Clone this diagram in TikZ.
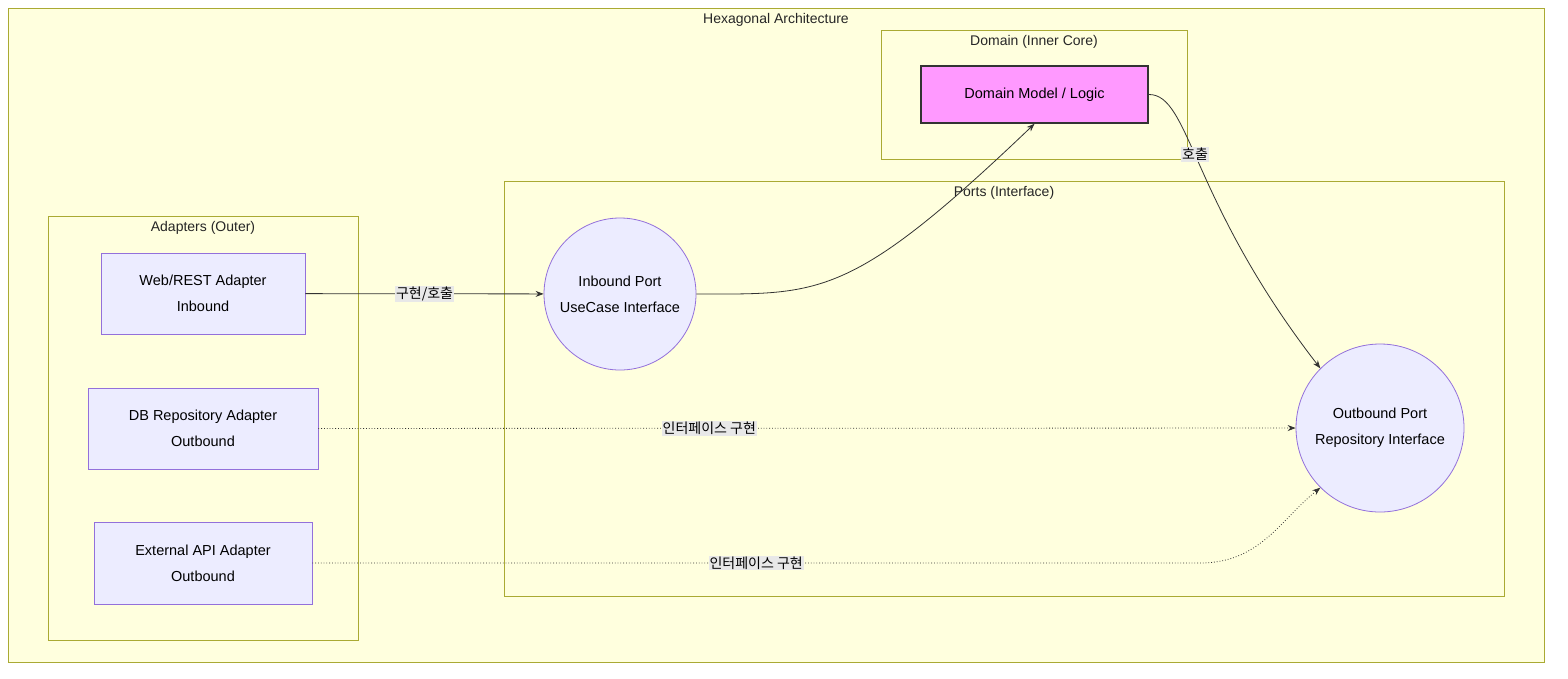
\documentclass[tikz,border=0pt]{standalone}
\usepackage{fontspec}
\setmainfont{Liberation Sans}
\newfontfamily\kr{Noto Sans CJK KR}
\usetikzlibrary{arrows.meta}
\definecolor{grpfill}{HTML}{FFFFDE}
\definecolor{grpline}{HTML}{AAAA33}
\definecolor{nfill}{HTML}{ECECFF}
\definecolor{nline}{HTML}{9370DB}
\definecolor{dfill}{HTML}{FF99FF}
\definecolor{lbl}{HTML}{E8E8E8}
\begin{document}
\begin{tikzpicture}[x=1pt,y=-1pt,
  grp/.style={draw=grpline,fill=grpfill,line width=0.8pt},
  gt/.style={font=\fontsize{14}{16}\selectfont,text=black!85},
  box/.style={draw=nline,fill=nfill,line width=0.8pt,align=center,font=\fontsize{14.5}{26}\selectfont},
  circ/.style={circle,draw=nline,fill=nfill,line width=0.8pt,align=center,font=\fontsize{14.5}{26}\selectfont,inner sep=0pt},
  e/.style={draw=black!80,line width=0.8pt,-{Stealth[length=8pt,width=6pt]}},
  dot/.style={e,dotted},
  el/.style={fill=lbl,inner sep=1pt,font=\kr\fontsize{14}{16}\selectfont}]
\path[use as bounding box] (0,0) rectangle (1568,678);
\fill[white] (0,0) rectangle (1568,678);
\draw[grp] (8,8) rectangle (1544,662);
\node[gt] (t0) at (776,20) {Hexagonal Architecture};
\draw[grp] (881,30) rectangle (1187,159);
\node[gt] (t1) at (1034,42) {Domain (Inner Core)};
\draw[grp] (504,181) rectangle (1504,596);
\node[gt] (t2) at (1004,193) {Ports (Interface)};
\draw[grp] (48,216) rectangle (358,640);
\node[gt] (t3) at (203,228) {Adapters (Outer)};
\node[box,minimum width=204pt,minimum height=81pt] (web) at (203,293.5) {Web/REST Adapter\\Inbound};
\node[box,minimum width=230pt,minimum height=81pt] (db) at (203,428.5) {DB Repository Adapter\\Outbound};
\node[box,minimum width=218pt,minimum height=82pt] (ext) at (203,563) {External API Adapter\\Outbound};
\node[box,draw=black!80,line width=1.5pt,fill=dfill,minimum width=227pt,minimum height=57pt] (dom) at (1034.5,94.5) {Domain Model / Logic};
\node[circ,minimum size=152pt] (in) at (620,294) {Inbound Port\\UseCase Interface};
\node[circ,minimum size=168pt] (out) at (1380,428) {Outbound Port\\Repository Interface};
\draw[e] (web) -- node[el]{구현/호출} (in);
\draw[e] (in.east) .. controls (820,294) and (850,300) .. (dom.south);
\draw[e] (dom.east) .. controls (1190,94) and (1190,200) .. node[el,pos=0.45]{호출} (out.north west);
\draw[dot] (db) -- node[el,pos=0.4]{인터페이스 구현} (out);
\draw[dot] (ext.east) -- (1200,563) node[el,pos=0.5]{인터페이스 구현} .. controls (1260,563) and (1280,520) .. (out.south west);
\end{tikzpicture}
\end{document}
